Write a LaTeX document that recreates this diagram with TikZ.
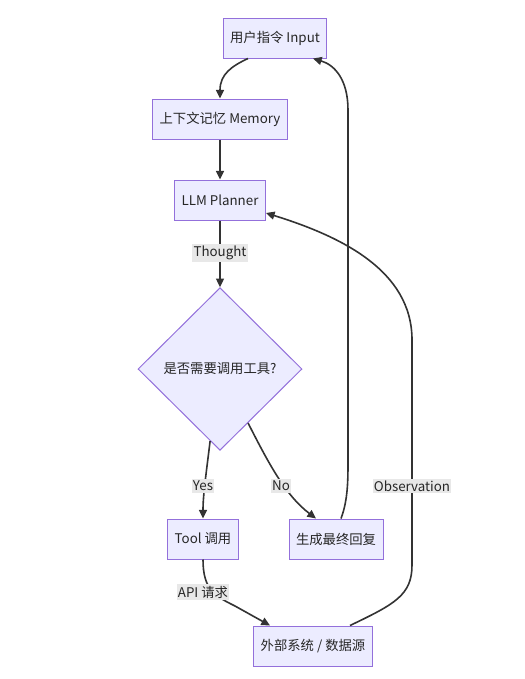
\documentclass[tikz,border=0pt]{standalone}
\usepackage{fontspec}
\setmainfont{Noto Sans CJK SC}
\usetikzlibrary{arrows.meta,shapes.geometric,calc}
\definecolor{mmfill}{HTML}{ECECFF}
\definecolor{mmstroke}{HTML}{9370DB}
\definecolor{mmline}{HTML}{333333}
\definecolor{mmlabel}{HTML}{E8E8E8}

\begin{document}
\begin{tikzpicture}[x=0.75pt,y=-0.75pt,>={Triangle[length=6.5pt,width=6pt]},
  every node/.style={font=\fontsize{10}{12}\selectfont, text=black!85},
  box/.style={draw=mmstroke, fill=mmfill, line width=0.75pt, minimum height=30pt, inner xsep=5.25pt},
  decision/.style={diamond, draw=mmstroke, fill=mmfill, line width=0.75pt, minimum width=123pt, minimum height=122pt, inner sep=0pt},
  flow/.style={->, draw=mmline, line width=1.2pt},
  lbl/.style={fill=mmlabel, inner xsep=1pt, inner ysep=1.5pt}]
\useasboundingbox (0,0) rectangle (525,679);
% ==================== NODES ====================
\node[box] (input) at (275,38) {用户指令 Input};
\node[box] (memory) at (220,119) {上下文记忆 Memory};
\node[box] (planner) at (220,200) {LLM Planner};
\node[decision] (dec) at (220,369) {是否需要调用工具?};
\node[box] (tool) at (203,539) {Tool 调用};
\node[box] (final) at (336,539) {生成最终回复};
\node[box] (external) at (313,646) {外部系统 / 数据源};

% ==================== MAIN FLOW ====================
\draw[flow] ($(input.south)+(-27,0)$) .. controls (232,66) and (220,74) .. (memory.north);
\draw[flow] (memory) -- (planner);
\draw[flow] (planner) -- (dec.north);
% Yes / No branches
\draw[flow] ($(dec.south)!0.12!(dec.west)$) .. controls (206,475) and (203,495) .. (tool.north);
\draw[flow] ($(dec.south)!0.34!(dec.east)$) .. controls (268,462) and (285,495) .. ($(final.north)+(-20,0)$);
% Answer goes back to the user
\draw[flow] ($(final.north)+(5,0)$) .. controls (348,500) and (348,480) .. (348,460)
  -- (348,110) .. controls (348,80) and (335,65) .. ($(input.south)+(38,0)$);
% Tool call and observation loop
\draw[flow] (tool.south) .. controls (203,590) and (215,596) .. (235,606) -- ($(external.north)+(-43,0)$);
\draw[flow] ($(external.north)+(37,0)$) .. controls (395,604) and (412,595) .. (412,565)
  -- (412,340) .. controls (412,270) and (340,236) .. ($(planner.east)+(0,13)$);

% ==================== EDGE LABELS ====================
\node[lbl] (thought) at (220,253) {Thought};
\node[lbl] (yes) at (203,486) {Yes};
\node[lbl] (no) at (281,486) {No};
\node[lbl] (obs) at (412,486) {Observation};
\node[lbl] (api) at (203,592) {API 请求};
\end{tikzpicture}
\end{document}
